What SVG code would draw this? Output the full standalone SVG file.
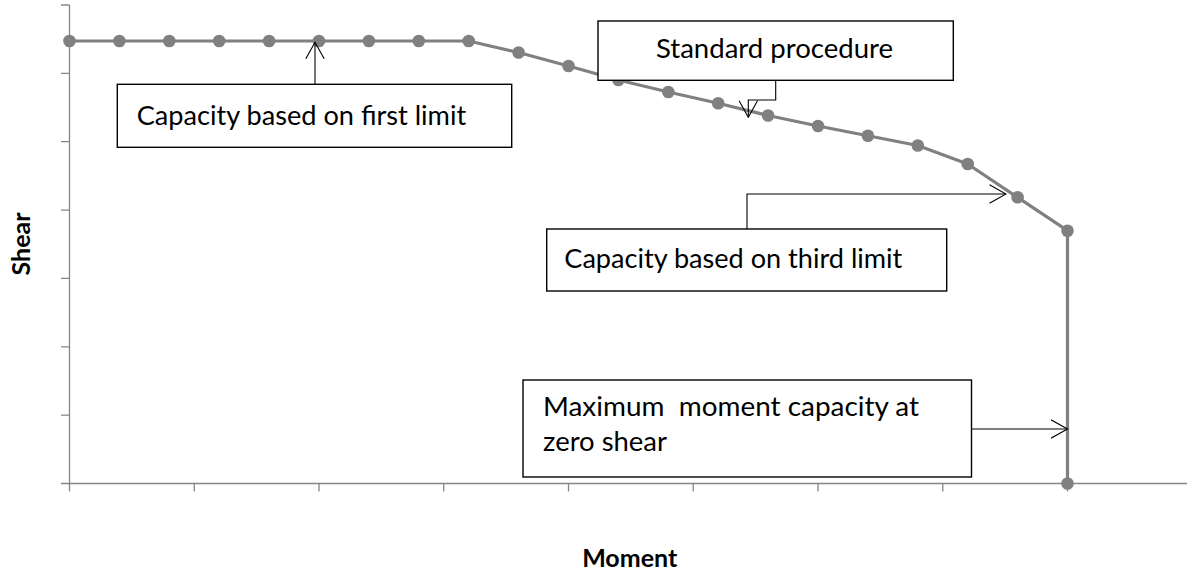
<svg xmlns="http://www.w3.org/2000/svg" width="1187" height="575" viewBox="0 0 1187 575">
  <style>
    .axis { stroke: #868686; stroke-width: 1.3; fill: none; }
    .series { stroke: #808080; stroke-width: 3.2; fill: none; stroke-linejoin: round; }
    .pt { fill: #808080; }
    .box { fill: #ffffff; stroke: #000000; stroke-width: 1.4; }
    .lbl { font-family: Lato, "Open Sans", "Liberation Sans", sans-serif; font-size: 26.5px; fill: #000000; white-space: pre; }
    .ttl { font-family: Lato, "Open Sans", "Liberation Sans", sans-serif; font-size: 25px; font-weight: bold; fill: #000000; }
    .conn { stroke: #000000; stroke-width: 1.1; fill: none; }
  </style>
  <defs>
    <marker id="openArrow" viewBox="0 0 18 20" refX="17" refY="10" markerWidth="18" markerHeight="20" markerUnits="userSpaceOnUse" orient="auto">
      <path d="M0.5,0.8 L17,10 L0.5,19.2" fill="none" stroke="#000000" stroke-width="1.1"/>
    </marker>
  </defs>

  <rect x="0" y="0" width="1187" height="575" fill="#ffffff"/>

  <!-- axes with tick marks -->
  <g id="axes">
    <line class="axis" x1="69.5" y1="5" x2="69.5" y2="483.5"/>
    <line class="axis" x1="61" y1="483.5" x2="1187" y2="483.5"/>
    <path class="axis" d="M61,5 H69.5 M61,73.4 H69.5 M61,141.7 H69.5 M61,210.1 H69.5 M61,278.4 H69.5 M61,346.8 H69.5 M61,415.1 H69.5"/>
    <path class="axis" d="M69.5,483.5 V491.5 M194.25,483.5 V491.5 M319,483.5 V491.5 M443.75,483.5 V491.5 M568.5,483.5 V491.5 M693.25,483.5 V491.5 M818,483.5 V491.5 M942.75,483.5 V491.5 M1067.5,483.5 V491.5"/>
  </g>

  <!-- axis titles -->
  <text class="ttl" x="629.7" y="566.5" text-anchor="middle">Moment</text>
  <text class="ttl" transform="translate(30,244) rotate(-90)" text-anchor="middle">Shear</text>

  <!-- shear-moment interaction curve -->
  <g id="series">
    <polyline class="series" points="69.5,41 119.4,41 169.3,41 219.2,41 269.1,41 319,41 368.9,41 418.8,41 468.7,41 518.6,52.5 568.5,66 618.4,80 668.3,92 718.2,103.3 768.1,115.5 818,126 867.9,135.7 917.8,145.5 967.7,164 1017.6,197.3 1067.5,230.7 1067.5,483.5"/>
    <g>
      <circle class="pt" cx="69.5" cy="41" r="6.3"/>
      <circle class="pt" cx="119.4" cy="41" r="6.3"/>
      <circle class="pt" cx="169.3" cy="41" r="6.3"/>
      <circle class="pt" cx="219.2" cy="41" r="6.3"/>
      <circle class="pt" cx="269.1" cy="41" r="6.3"/>
      <circle class="pt" cx="319" cy="41" r="6.3"/>
      <circle class="pt" cx="368.9" cy="41" r="6.3"/>
      <circle class="pt" cx="418.8" cy="41" r="6.3"/>
      <circle class="pt" cx="468.7" cy="41" r="6.3"/>
      <circle class="pt" cx="518.6" cy="52.5" r="6.3"/>
      <circle class="pt" cx="568.5" cy="66" r="6.3"/>
      <circle class="pt" cx="618.4" cy="80" r="6.3"/>
      <circle class="pt" cx="668.3" cy="92" r="6.3"/>
      <circle class="pt" cx="718.2" cy="103.3" r="6.3"/>
      <circle class="pt" cx="768.1" cy="115.5" r="6.3"/>
      <circle class="pt" cx="818" cy="126" r="6.3"/>
      <circle class="pt" cx="867.9" cy="135.7" r="6.3"/>
      <circle class="pt" cx="917.8" cy="145.5" r="6.3"/>
      <circle class="pt" cx="967.7" cy="164" r="6.3"/>
      <circle class="pt" cx="1017.6" cy="197.3" r="6.3"/>
      <circle class="pt" cx="1067.5" cy="230.7" r="6.3"/>
      <circle class="pt" cx="1067.5" cy="483.5" r="6.3"/>
    </g>
  </g>

  <!-- callout leader lines -->
  <g id="connectors">
    <path class="conn" d="M315,84.3 V42.3" marker-end="url(#openArrow)"/>
    <path class="conn" d="M775.7,80.3 V100 H748.3 V117.3" marker-end="url(#openArrow)"/>
    <path class="conn" d="M747,229 V194 H1006" marker-end="url(#openArrow)"/>
    <path class="conn" d="M971.5,429 H1067.5" marker-end="url(#openArrow)"/>
  </g>

  <!-- callout boxes -->
  <g id="first-limit">
    <rect class="box" x="117.3" y="84.3" width="394.4" height="63"/>
    <text class="lbl" x="136.7" y="124.5" textLength="329.5" lengthAdjust="spacingAndGlyphs">Capacity based on first limit</text>
  </g>
  <g id="standard-procedure">
    <rect class="box" x="598" y="21" width="355.3" height="59.3"/>
    <text class="lbl" x="656" y="58" textLength="237" lengthAdjust="spacingAndGlyphs">Standard procedure</text>
  </g>
  <g id="third-limit">
    <rect class="box" x="546.7" y="229" width="400" height="62"/>
    <text class="lbl" x="564.3" y="268" textLength="338" lengthAdjust="spacingAndGlyphs">Capacity based on third limit</text>
  </g>
  <g id="max-moment">
    <rect class="box" x="523" y="380" width="448.5" height="97"/>
    <text class="lbl" x="543" y="416" textLength="376" lengthAdjust="spacingAndGlyphs">Maximum  moment capacity at</text>
    <text class="lbl" x="543" y="451" textLength="124" lengthAdjust="spacingAndGlyphs">zero shear</text>
  </g>
</svg>
